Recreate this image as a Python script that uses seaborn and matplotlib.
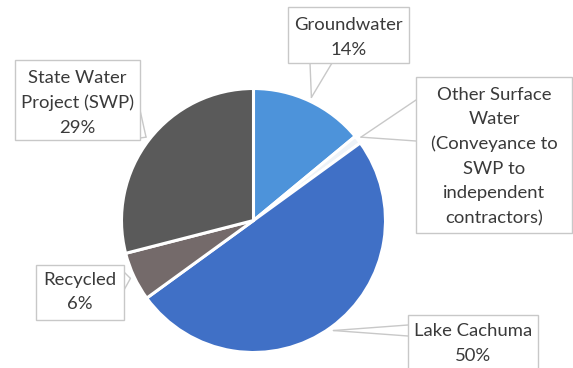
import numpy as np
import matplotlib
matplotlib.use("Agg")
import matplotlib.pyplot as plt
import seaborn as sns
from matplotlib.patches import Rectangle

# ---- data ----
categories = ["Groundwater",
              "Other Surface Water (Conveyance to SWP to independent contractors)",
              "Lake Cachuma", "Recycled", "State Water Project (SWP)"]
values = [14, 1, 50, 6, 29]
label_lines = [
    ["Groundwater", "14%"],
    ["Other Surface", "Water", "(Conveyance to", "SWP to", "independent", "contractors)"],
    ["Lake Cachuma", "50%"],
    ["Recycled", "6%"],
    ["State Water", "Project (SWP)", "29%"],
]
colors = ["#4d93da", "#eef3f8", "#4070c6", "#746a6a", "#5a5a5a"]

sns.set_theme(style="white")
plt.rcParams['font.family'] = ['Lato', 'DejaVu Sans']

W, H = 573, 368
fig = plt.figure(figsize=(W / 100, H / 100), dpi=100)
ax = fig.add_axes([0, 0, 1, 1])

def Y(y):
    return H - y

cx, cy, R = 253.5, 220.5, 132
wedges, _ = ax.pie(values, startangle=90, counterclock=False, colors=colors,
                   center=(cx, Y(cy)), radius=R,
                   wedgeprops=dict(edgecolor="white", linewidth=2.2))
ax.set_xlim(0, W)
ax.set_ylim(0, H)
ax.set_aspect("equal")
ax.axis("off")

# label boxes (pixel coords: x0, y0, x1, y1), pointer base side and base points
boxes = [
    dict(box=(288, 7, 409, 63), side="bottom", base=(310, 332), ys=[25, 50]),
    dict(box=(416, 77, 572, 233), side="left", base=(100, 141),
         ys=[95, 119.5, 144, 168.5, 193, 218]),
    dict(box=(408, 315, 538, 380), side="left", base=(325, 336), ys=[331, 356]),
    dict(box=(36, 265, 124, 320), side="right", base=(272, 290), ys=[280, 304]),
    dict(box=(15, 60, 140, 140), side="right", base=(110, 138), ys=[78, 103, 128]),
]

edge_col = "#c8c8c8"
text_col = "#3a3a3a"
for w, b, lines in zip(wedges, boxes, label_lines):
    mid = np.deg2rad((w.theta1 + w.theta2) / 2)
    ax_x = cx + (R + 4) * np.cos(mid)
    ax_y = Y(cy) + (R + 4) * np.sin(mid)
    x0, y0, x1, y1 = b["box"]
    ax.add_patch(Rectangle((x0, Y(y1)), x1 - x0, y1 - y0, facecolor="white",
                           edgecolor=edge_col, linewidth=1.0, zorder=3))
    if b["side"] == "bottom":
        pts = [(b["base"][0], Y(y1)), (b["base"][1], Y(y1))]
    elif b["side"] == "left":
        pts = [(x0, Y(b["base"][0])), (x0, Y(b["base"][1]))]
    else:
        pts = [(x1, Y(b["base"][0])), (x1, Y(b["base"][1]))]
    for px, py in pts:
        ax.plot([px, ax_x], [py, ax_y], color=edge_col, linewidth=1.0, zorder=2)
    xc = (x0 + x1) / 2
    for line, yy in zip(lines, b["ys"]):
        ax.text(xc, Y(yy), line, ha="center", va="center", fontsize=13.3,
                color=text_col, zorder=4)

fig.savefig("out.png", dpi=100)
